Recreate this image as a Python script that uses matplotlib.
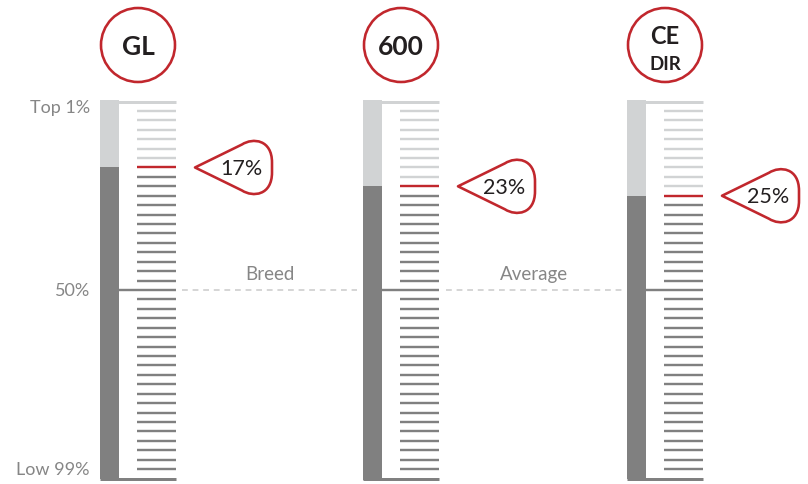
import numpy as np
import matplotlib
matplotlib.use('Agg')
import matplotlib.pyplot as plt
from matplotlib.patches import Circle, PathPatch, Rectangle
from matplotlib.path import Path

plt.rcParams['font.family'] = ['Lato', 'DejaVu Sans']

# data
traits = ['GL', '600', 'CE\nDIR']
percentiles = [17, 23, 25]
scale_labels = ['Top 1%', '50%', 'Low 99%']
scale_values = [0, 50, 100]
between_labels = ['Breed', 'Average']

# colours
DARK = '#808080'
LIGHT = '#d1d3d4'
RED = '#c1272d'
TXT = '#868686'
INK = '#231f20'

# layout (pixel space)
W, H = 808, 485
y_top, y_bot = 102.5, 479.5
n_steps = 40
x0 = [100, 363, 627]
bar_w = 19
tick_x0, tick_x1 = 37, 76


def ypos(p):
    return y_top + (y_bot - y_top) * p / 100.0


fig = plt.figure(figsize=(W / 100, H / 100), dpi=100)
ax = fig.add_axes([0, 0, 1, 1])
ax.set_xlim(0, W)
ax.set_ylim(H, 0)
ax.axis('off')

lw = 2.4 * 72 / 100  # ~2.4 px

for i, (name, p) in enumerate(zip(traits, percentiles)):
    left = x0[i]
    idx = int(round(p / 100 * n_steps))
    y_red = y_top + idx * (y_bot - y_top) / n_steps
    # vertical bar: light above, dark below
    ax.add_patch(Rectangle((left, 101), bar_w, y_red - 101, color=LIGHT, lw=0))
    ax.add_patch(Rectangle((left, y_red), bar_w, 480.5 - y_red, color=DARK, lw=0))
    # top and bottom rules
    ax.plot([left, left + tick_x1], [ypos(0)] * 2, color=LIGHT, lw=3 * 0.72,
            solid_capstyle='butt')
    ax.plot([left, left + tick_x1], [ypos(100)] * 2, color=DARK, lw=3 * 0.72,
            solid_capstyle='butt')
    # ticks
    for k in range(1, n_steps):
        y = y_top + k * (y_bot - y_top) / n_steps
        if k < idx:
            c = LIGHT
        elif k == idx:
            c = RED
        else:
            c = DARK
        xa = left + bar_w if k == n_steps // 2 else left + tick_x0
        ax.plot([xa, left + tick_x1], [y, y], color=c, lw=lw,
                solid_capstyle='butt')
    # header circle
    cx = left + 38
    ax.add_patch(Circle((cx, 46), 37, fill=False, ec=RED, lw=2.6 * 0.72))
    parts = name.split('\n')
    if len(parts) == 1:
        ax.text(cx, 47, parts[0], ha='center', va='center', fontsize=19,
                fontweight='bold', color=INK)
    else:
        ax.text(cx, 37, parts[0], ha='center', va='center', fontsize=17,
                fontweight='bold', color=INK)
        ax.text(cx, 65, parts[1], ha='center', va='center', fontsize=13.5,
                fontweight='bold', color=INK)
    # pointer
    tx, ty = left + 95, y_red
    rel = [(0, 0), (47, -23), (58, -30), (77, -28), (77, -5), (77, 5),
           (77, 28), (58, 30), (47, 23), (0, 0)]
    codes = [Path.MOVETO, Path.LINETO, Path.CURVE4, Path.CURVE4, Path.CURVE4,
             Path.LINETO, Path.CURVE4, Path.CURVE4, Path.CURVE4, Path.CLOSEPOLY]
    verts = [(tx + a, ty + b) for a, b in rel]
    ax.add_patch(PathPatch(Path(verts, codes), fc='white', ec=RED,
                           lw=2.6 * 0.72, joinstyle='round'))
    ax.text(tx + 46, ty + 0.5, f'{p}%', ha='center', va='center', fontsize=15.5,
            color=INK)

# scale labels on the left
for lab, v in zip(scale_labels, scale_values):
    yy = ypos(v)
    if v == 0:
        yy += 5
    elif v == 100:
        yy -= 9
    ax.text(90, yy, lab, ha='right', va='center', fontsize=13, color=TXT)

# dashed average line with labels
mid = ypos(50)
gaps = [(182, 357), (446, 622)]
for (a, b), lab in zip(gaps, between_labels):
    ax.plot([a, b], [mid, mid], color='#d6d6d6', lw=2 * 0.72,
            dashes=(2.9, 2.4))
    ax.text((a + b) / 2, mid - 16, lab, ha='center', va='center',
            fontsize=13.5, color=TXT)

fig.savefig('out.png', dpi=100)
